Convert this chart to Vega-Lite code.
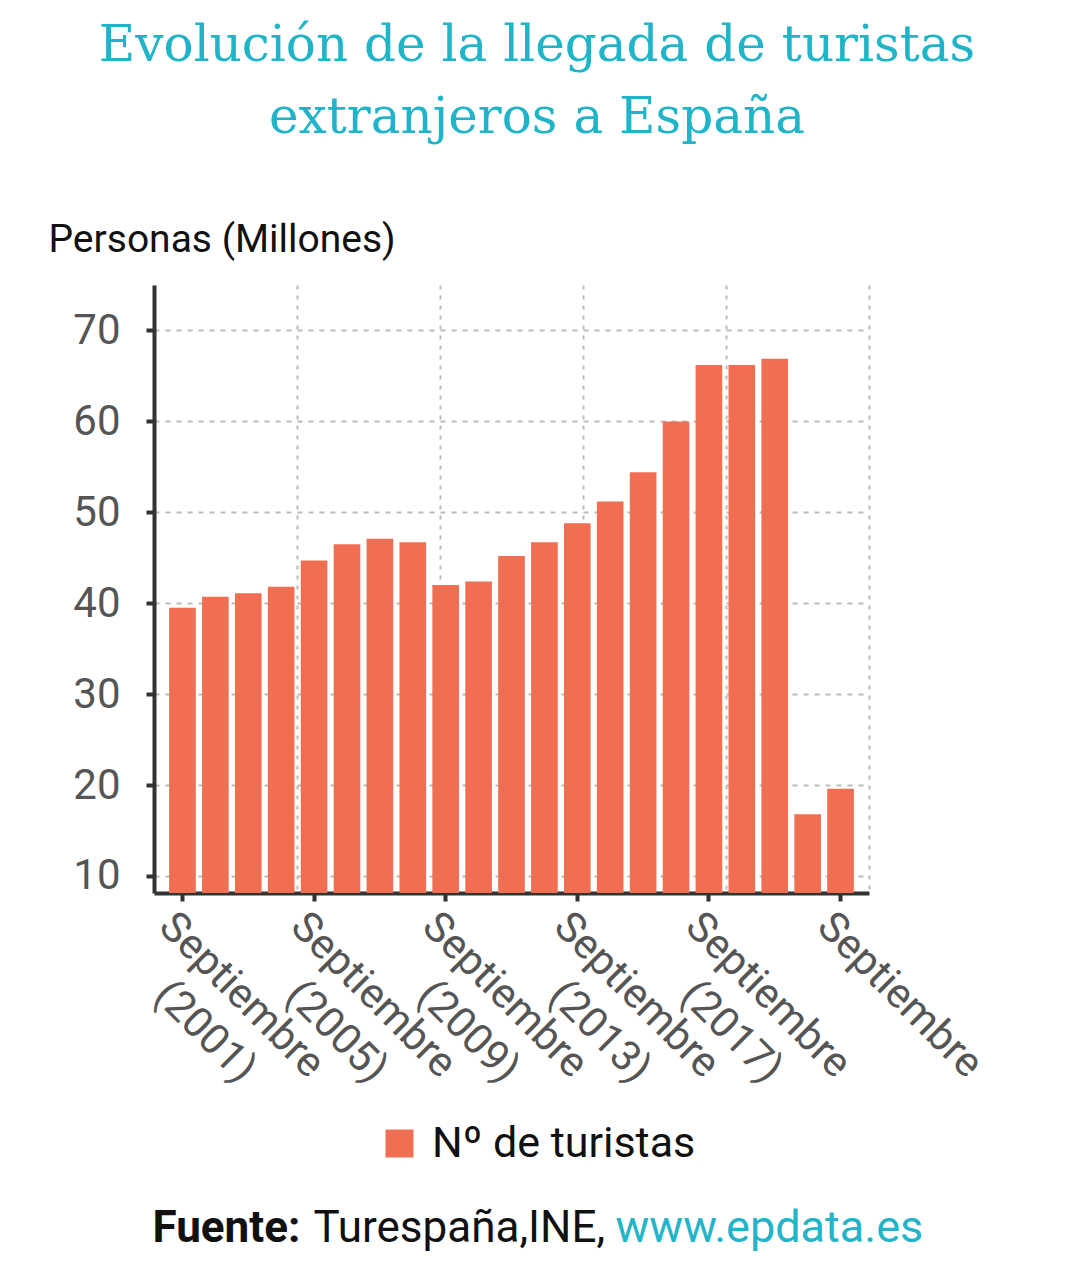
{
  "$schema": "https://vega.github.io/schema/vega-lite/v6.json",
  "width": 715,
  "height": 608,
  "autosize": {"type": "none"},
  "padding": {"left": 154, "top": 285, "right": 205, "bottom": 387},
  "background": "white",
  "title": {
    "text": ["Evolución de la llegada de turistas", "extranjeros a España"],
    "font": "DejaVu Serif",
    "fontSize": 50,
    "fontWeight": "normal",
    "color": "#1fb4c8",
    "lineHeight": 72,
    "anchor": "middle",
    "frame": "group",
    "dx": 25.5,
    "offset": 77
  },
  "config": {"view": {"stroke": null}, "font": "Roboto"},
  "data": {
    "values": [
      {"anio": "2001", "turistas": 39.5},
      {"anio": "2002", "turistas": 40.7},
      {"anio": "2003", "turistas": 41.1},
      {"anio": "2004", "turistas": 41.8},
      {"anio": "2005", "turistas": 44.7},
      {"anio": "2006", "turistas": 46.5},
      {"anio": "2007", "turistas": 47.1},
      {"anio": "2008", "turistas": 46.7},
      {"anio": "2009", "turistas": 42.0},
      {"anio": "2010", "turistas": 42.4},
      {"anio": "2011", "turistas": 45.2},
      {"anio": "2012", "turistas": 46.7},
      {"anio": "2013", "turistas": 48.8},
      {"anio": "2014", "turistas": 51.2},
      {"anio": "2015", "turistas": 54.4},
      {"anio": "2016", "turistas": 60.0},
      {"anio": "2017", "turistas": 66.2},
      {"anio": "2018", "turistas": 66.2},
      {"anio": "2019", "turistas": 66.9},
      {"anio": "2020", "turistas": 16.8},
      {"anio": "2021", "turistas": 19.6}
    ]
  },
  "layer": [
    {
      "mark": {"type": "bar", "clip": true},
      "encoding": {
        "x": {
          "field": "anio",
          "type": "ordinal",
          "scale": {"paddingInner": 0.19, "paddingOuter": 0.46},
          "axis": {
            "values": ["2001", "2005", "2009", "2013", "2017", "2021"],
            "labelExpr": "datum.value == '2021' ? 'Septiembre' : ['Septiembre', '(' + datum.value + ')']",
            "labelAngle": 45,
            "labelAlign": "center",
            "labelBaseline": "top",
            "labelOffset": 73.5,
            "labelFont": "Roboto",
            "labelFontSize": 42,
            "labelColor": "#555555",
            "labelLineHeight": 52,
            "labelPadding": 79.5,
            "labelLimit": 0,
            "labelOverlap": false,
            "labelBound": false,
            "labelFlush": false,
            "tickColor": "#333333",
            "tickWidth": 4,
            "tickSize": 8,
            "domainColor": "#333333",
            "domainWidth": 4,
            "grid": false,
            "zindex": 0,
            "title": "Fuente:",
            "titleFont": "Roboto",
            "titleFontWeight": "bold",
            "titleFontSize": 44,
            "titleColor": "#111111",
            "titleAngle": 0,
            "titleAlign": "left",
            "titleBaseline": "alphabetic",
            "titleX": -2,
            "titleY": 348
          }
        },
        "y": {
          "field": "turistas",
          "type": "quantitative",
          "scale": {"domain": [8.13, 75], "nice": false, "zero": false},
          "axis": {
            "values": [10, 20, 30, 40, 50, 60, 70],
            "labelFont": "Roboto",
            "labelFontSize": 42,
            "labelColor": "#555555",
            "labelPadding": 26,
            "tickColor": "#333333",
            "tickWidth": 4,
            "tickSize": 8,
            "domainColor": "#333333",
            "domainWidth": 4,
            "grid": true,
            "gridColor": "#bbbbbb",
            "gridDash": [5, 6],
            "gridWidth": 2,
            "title": "Personas (Millones)",
            "titleFont": "Roboto",
            "titleFontWeight": "normal",
            "titleFontSize": 39,
            "titleColor": "#111111",
            "titleAngle": 0,
            "titleAlign": "left",
            "titleBaseline": "alphabetic",
            "titleX": -106,
            "titleY": -34
          }
        },
        "color": {
          "datum": "Nº de turistas",
          "type": "nominal",
          "scale": {"range": ["#f06e51"]},
          "legend": {
            "orient": "none",
            "legendX": 224,
            "legendY": 837,
            "title": null,
            "symbolType": "square",
            "symbolSize": 784,
            "symbolStrokeWidth": 0,
            "labelFont": "Roboto",
            "labelFontSize": 43,
            "labelColor": "#111111",
            "labelOffset": 11,
            "labelLimit": 0,
            "padding": 0
          }
        }
      }
    },
    {
      "mark": {"type": "point", "opacity": 0},
      "encoding": {
        "x": {
          "datum": 0,
          "type": "quantitative",
          "scale": {"domain": [0, 5], "nice": false, "zero": false},
          "axis": {
            "orient": "bottom",
            "values": [0, 1, 2, 3, 4, 5],
            "grid": true,
            "gridColor": "#bbbbbb",
            "gridDash": [4, 6],
            "gridWidth": 2,
            "labels": false,
            "ticks": false,
            "domain": false,
            "title": "Turespaña,INE,",
            "titleFont": "Roboto",
            "titleFontWeight": "normal",
            "titleFontSize": 44,
            "titleColor": "#111111",
            "titleAngle": 0,
            "titleAlign": "left",
            "titleBaseline": "alphabetic",
            "titleX": 159,
            "titleY": 348
          }
        },
        "y": {
          "datum": 0,
          "type": "quantitative",
          "scale": {"domain": [0, 1]},
          "axis": {
            "orient": "right",
            "labels": false,
            "ticks": false,
            "domain": false,
            "grid": false,
            "title": "www.epdata.es",
            "titleFont": "Roboto",
            "titleFontWeight": "normal",
            "titleFontSize": 45,
            "titleColor": "#22b4c9",
            "titleAngle": 0,
            "titleAlign": "left",
            "titleBaseline": "alphabetic",
            "titleX": -254,
            "titleY": 956
          }
        }
      }
    }
  ],
  "resolve": {"scale": {"x": "independent", "y": "independent"}}
}
